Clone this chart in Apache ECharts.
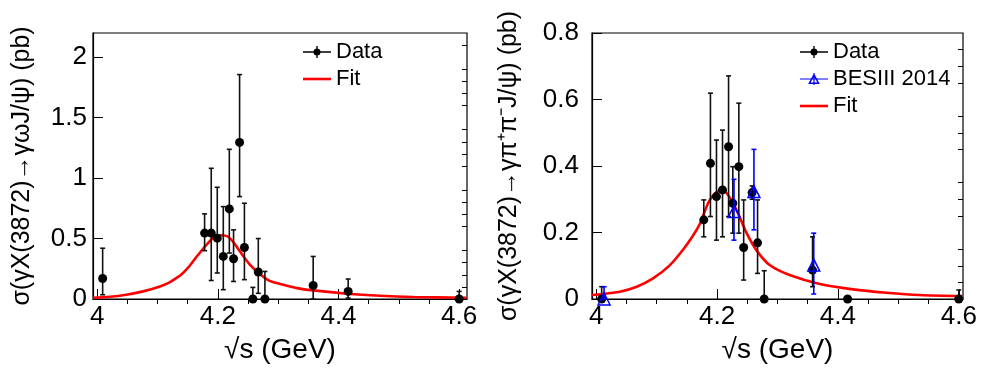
<!DOCTYPE html>
<html lang="en" style="height: 100%">

<head>
  <meta charset="utf-8">
</head>

<body style="height: 100%; margin: 0; background: #fff">
  <div id="container" style="width: 982px; height: 377px"></div>

  <script type="text/javascript" src="https://fastly.jsdelivr.net/npm/echarts@6.0.0/dist/echarts.min.js"></script>

  <script type="text/javascript">
    // left panel: gamma omega J/psi
    var leftX = [4.009, 4.178, 4.189, 4.199, 4.209, 4.219, 4.226, 4.236, 4.244, 4.258, 4.267, 4.278, 4.358, 4.416, 4.600];
    var leftY = [0.17, 0.545, 0.545, 0.503, 0.352, 0.745, 0.333, 1.295, 0.426, 0, 0.223, 0, 0.112, 0.063, 0];
    var leftLo = [0.035, 0.40, 0.153, 0.215, 0.077, 0.38, 0.145, 0.847, 0.16, 0, 0.047, 0, 0, 0.008, 0];
    var leftHi = [0.42, 0.704, 1.081, 0.924, 0.764, 1.238, 0.572, 1.856, 0.792, 0.096, 0.5, 0.228, 0.352, 0.165, 0.063];
    var fitLX = [3.993, 4.021, 4.048, 4.076, 4.104, 4.12, 4.131, 4.14, 4.148, 4.156, 4.164, 4.173, 4.181, 4.192, 4.205, 4.217, 4.228, 4.237, 4.253, 4.27, 4.286, 4.303, 4.331, 4.358, 4.414, 4.469, 4.524, 4.612];
    var fitLY = [0.01, 0.018, 0.035, 0.063, 0.104, 0.138, 0.173, 0.205, 0.245, 0.292, 0.345, 0.40, 0.448, 0.503, 0.527, 0.515, 0.455, 0.39, 0.285, 0.205, 0.15, 0.125, 0.09, 0.071, 0.044, 0.027, 0.017, 0.01];

    // right panel: gamma pi+ pi- J/psi
    var rightX = [4.009, 4.178, 4.189, 4.199, 4.209, 4.219, 4.226, 4.236, 4.244, 4.258, 4.267, 4.278, 4.358, 4.416, 4.600];
    var rightY = [0, 0.238, 0.408, 0.308, 0.328, 0.458, 0.288, 0.398, 0.155, 0.32, 0.169, 0, 0.087, 0, 0];
    var rightLo = [0, 0.187, 0.248, 0.177, 0.187, 0.248, 0.198, 0.198, 0.057, 0.30, 0.077, 0, 0.037, 0, 0];
    var rightHi = [0.037, 0.298, 0.619, 0.478, 0.508, 0.671, 0.398, 0.589, 0.298, 0.34, 0.298, 0.085, 0.187, 0, 0.027];
    var besX = [4.013, 4.228, 4.261, 4.360];
    var besY = [0, 0.263, 0.323, 0.102];
    var besLo = [0, 0.177, 0.208, 0.015];
    var besHi = [0.037, 0.36, 0.45, 0.198];
    var fitRX = [3.993, 4.039, 4.067, 4.094, 4.122, 4.144, 4.16, 4.172, 4.188, 4.205, 4.216, 4.232, 4.249, 4.265, 4.287, 4.32, 4.37, 4.425, 4.48, 4.535, 4.606];
    var fitRY = [0.012, 0.022, 0.037, 0.062, 0.102, 0.149, 0.19, 0.228, 0.298, 0.326, 0.318, 0.268, 0.198, 0.147, 0.102, 0.072, 0.045, 0.029, 0.019, 0.012, 0.009];

    // ticks
    var xMajor = [4, 4.2, 4.4, 4.6];
    var xMinor = [4.05, 4.1, 4.15, 4.25, 4.3, 4.35, 4.45, 4.5, 4.55];
    var yLeftMajor = [0, 0.5, 1, 1.5, 2];
    var yLeftMinor = [0.1, 0.2, 0.3, 0.4, 0.6, 0.7, 0.8, 0.9, 1.1, 1.2, 1.3, 1.4, 1.6, 1.7, 1.8, 1.9, 2.1];
    var yRightMajor = [0, 0.2, 0.4, 0.6, 0.8];
    var yRightMinor = [0.05, 0.1, 0.15, 0.25, 0.3, 0.35, 0.45, 0.5, 0.55, 0.65, 0.7, 0.75];

    var FONT = 'Liberation Sans';
    var dom = document.getElementById('container');
    var myChart = echarts.init(dom, null, { renderer: 'canvas' });

    // legend markers: line + error tick + symbol, like the ROOT legend
    var dataIcon = 'path://M0,5.3h28v1.4h-28z M13.3,0h1.4v12h-1.4z M10.5,6a3.5,3.5 0 1,1 7,0a3.5,3.5 0 1,1 -7,0z';
    var besIcon = 'path://M0,5.4h28v1.2h-28z M13.4,0h1.2v12h-1.2z M14,0.3L19.8,11L8.2,11z M14,3.2L10.7,9.5L17.3,9.5z';
    var fitIcon = 'path://M0,0h28v2.6h-28z';

    function fmt(v) {
      return String(Math.round(v * 10) / 10);
    }

    function pairs(xs, ys) {
      return xs.map(function (x, i) { return [x, ys[i]]; });
    }

    function xAxes(gi, min, max) {
      return [{
        type: 'value', gridIndex: gi, min: min, max: max,
        name: '√s (GeV)', nameLocation: 'middle', nameGap: 37,
        nameTextStyle: { fontFamily: FONT, fontSize: 28, color: '#000' },
        axisLine: { lineStyle: { color: '#000', width: 1.2 } },
        axisTick: { inside: true, length: 10, customValues: xMajor, lineStyle: { color: '#000' } },
        axisLabel: { customValues: xMajor, formatter: fmt, fontFamily: FONT, fontSize: 26, color: '#000', margin: 5 },
        splitLine: { show: false }
      }, {
        type: 'value', gridIndex: gi, min: min, max: max,
        axisLine: { show: false },
        axisTick: { inside: true, length: 5, customValues: xMinor, lineStyle: { color: '#000' } },
        axisLabel: { show: false },
        splitLine: { show: false }
      }];
    }

    function yAxes(gi, max, major, minor, name, gap, lmargin) {
      return [{
        type: 'value', gridIndex: gi, min: 0, max: max,
        name: name, nameLocation: 'middle', nameGap: gap, nameRotate: 90,
        nameTextStyle: { fontFamily: FONT, fontSize: 25, color: '#000' },
        axisLine: { show: true, lineStyle: { color: '#000', width: 1.2 } },
        axisTick: { show: true, inside: true, length: 10, customValues: major, lineStyle: { color: '#000' } },
        axisLabel: { customValues: major, fontFamily: FONT, fontSize: 26, color: '#000', margin: lmargin },
        splitLine: { show: false }
      }, {
        type: 'value', gridIndex: gi, min: 0, max: max,
        axisLine: { show: false },
        axisTick: { show: true, inside: true, length: 5, customValues: minor, lineStyle: { color: '#000' } },
        axisLabel: { show: false },
        splitLine: { show: false }
      }];
    }

    function errorBars(xs, lo, hi, color, ai, z) {
      return {
        type: 'custom', xAxisIndex: ai, yAxisIndex: ai, silent: true, z: z,
        data: xs.map(function (x, i) { return [x, lo[i], hi[i]]; }),
        encode: { x: 0, y: [1, 2] },
        renderItem: function (params, api) {
          var top = api.coord([api.value(0), api.value(2)]);
          var bot = api.coord([api.value(0), api.value(1)]);
          var st = { stroke: color, lineWidth: 1.6 };
          return {
            type: 'group',
            children: [
              { type: 'line', shape: { x1: top[0], y1: top[1], x2: bot[0], y2: bot[1] }, style: st },
              { type: 'line', shape: { x1: top[0] - 2.5, y1: top[1], x2: top[0] + 2.5, y2: top[1] }, style: st },
              { type: 'line', shape: { x1: bot[0] - 2.5, y1: bot[1], x2: bot[0] + 2.5, y2: bot[1] }, style: st }
            ]
          };
        }
      };
    }

    function fitLine(xs, ys, ai) {
      return {
        name: 'Fit', type: 'line', xAxisIndex: ai, yAxisIndex: ai, z: 3,
        data: pairs(xs, ys), smooth: 0.3, symbol: 'none', silent: true,
        lineStyle: { color: '#ff0000', width: 2.6 }, itemStyle: { color: '#ff0000' }
      };
    }

    var legendText = { fontFamily: FONT, fontSize: 22, color: '#000', lineHeight: 22 };

    var option = {
      animation: false,
      backgroundColor: '#fff',
      grid: [
        { left: 93, top: 33, width: 374, height: 266, show: true, borderColor: '#000', borderWidth: 1.2 },
        { left: 592, top: 33, width: 371, height: 266, show: true, borderColor: '#000', borderWidth: 1.2 }
      ],
      legend: [{
        left: 298, top: 36, orient: 'vertical', itemWidth: 28, itemHeight: 12, itemGap: 5, selectedMode: false,
        textStyle: legendText,
        data: [
          { name: 'Data', icon: dataIcon, itemStyle: { color: '#000', borderWidth: 0 } },
          { name: 'Fit', icon: fitIcon, itemStyle: { color: '#ff0000', borderWidth: 0 } }
        ]
      }, {
        left: 795, top: 36, orient: 'vertical', itemWidth: 28, itemHeight: 12, itemGap: 5, selectedMode: false,
        textStyle: legendText,
        data: [
          { name: 'Data', icon: dataIcon, itemStyle: { color: '#000', borderWidth: 0 } },
          { name: 'BESIII 2014', icon: besIcon, itemStyle: { color: '#0000ff', borderWidth: 0 } },
          { name: 'Fit', icon: fitIcon, itemStyle: { color: '#ff0000', borderWidth: 0 } }
        ]
      }],
      xAxis: xAxes(0, 3.993, 4.613).concat(xAxes(1, 3.993, 4.607)),
      yAxis: yAxes(0, 2.2, yLeftMajor, yLeftMinor, 'σ(γX(3872)→γωJ/ψ) (pb)', 58, 6)
        .concat(yAxes(1, 0.8, yRightMajor, yRightMinor, 'σ(γX(3872)→γπ⁺π⁻J/ψ) (pb)', 70, 13)),
      series: [
        fitLine(fitLX, fitLY, 0),
        errorBars(leftX, leftLo, leftHi, '#111', 0, 4),
        {
          name: 'Data', type: 'scatter', xAxisIndex: 0, yAxisIndex: 0, z: 5,
          data: pairs(leftX, leftY), symbol: 'circle', symbolSize: 9, clip: false,
          itemStyle: { color: '#000', opacity: 1 }
        },
        fitLine(fitRX, fitRY, 2),
        errorBars(rightX, rightLo, rightHi, '#111', 2, 4),
        {
          name: 'Data', type: 'scatter', xAxisIndex: 2, yAxisIndex: 2, z: 5,
          data: pairs(rightX, rightY), symbol: 'circle', symbolSize: 9, clip: false,
          itemStyle: { color: '#000', opacity: 1 }
        },
        errorBars(besX, besLo, besHi, '#0000ff', 2, 6),
        {
          name: 'BESIII 2014', type: 'scatter', xAxisIndex: 2, yAxisIndex: 2, z: 7,
          data: pairs(besX, besY), symbol: 'triangle', symbolSize: 12, clip: false,
          itemStyle: { color: 'rgba(255,255,255,0)', borderColor: '#0000ff', borderWidth: 1.5, opacity: 1 }
        }
      ]
    };

    myChart.setOption(option);
    window.addEventListener('resize', myChart.resize);
  </script>
</body>

</html>
